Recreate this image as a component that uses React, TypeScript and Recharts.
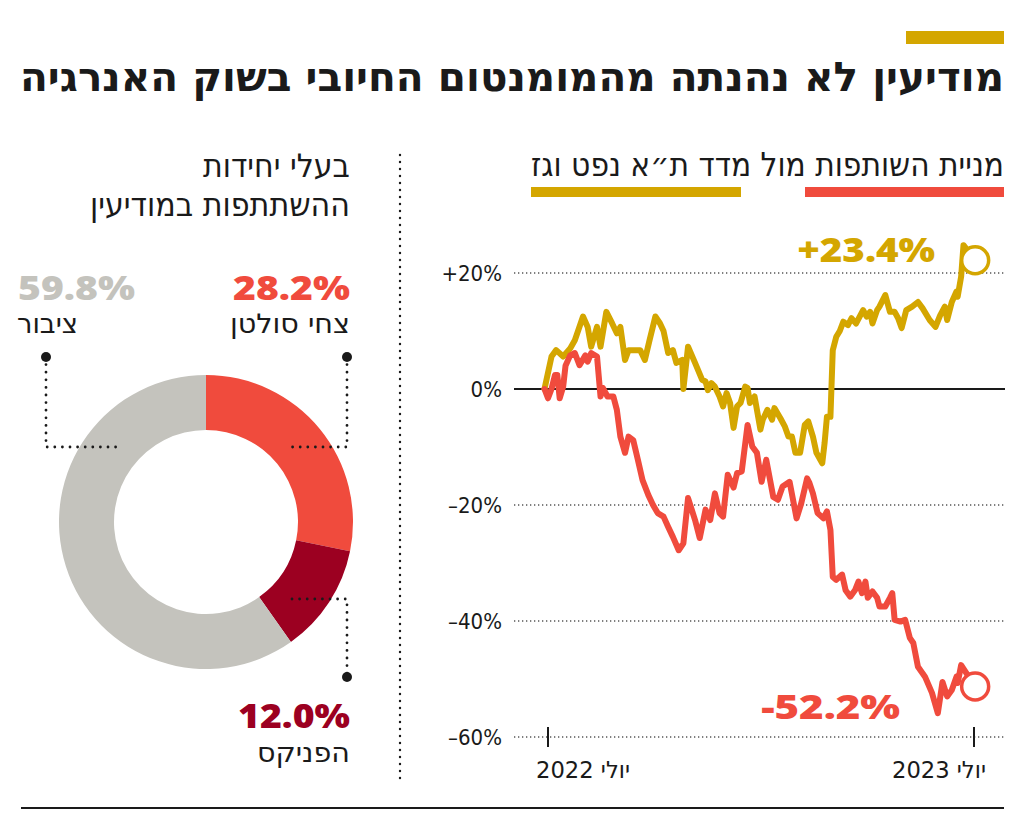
import React from 'react';
import { LineChart, Line, XAxis, YAxis, CartesianGrid, ReferenceLine, PieChart, Pie, Cell } from 'recharts';

const GOLD = '#D4A600';
const RED = '#F04B3D';
const DARK_RED = '#9C0021';
const GRAY = '#C4C3BD';
const INK = '#1a1a1a';

// days since 1 July 2022 — index (ת"א נפט וגז), % change
const indexDays = [-3, 3, 7, 13, 19, 23, 30, 34, 37, 42, 45, 50, 55, 59, 62, 66, 69, 79, 83, 87, 92, 96, 99, 103, 107, 110, 115, 116, 120, 126, 132, 135, 137, 140, 143, 147, 150, 153, 156, 159, 162, 165, 169, 171, 173, 177, 182, 184, 188, 192, 194, 199, 203, 206, 209, 212, 216, 220, 223, 227, 230, 235, 237, 239, 242, 244, 247, 250, 253, 257, 260, 264, 270, 273, 276, 278, 282, 284, 289, 293, 297, 300, 303, 307, 312, 317, 321, 327, 332, 336, 340, 342, 346, 350, 351, 354, 356, 366];
const indexValues = [0, 5.6, 6.7, 5.6, 7, 8.4, 12.5, 10.7, 7.3, 10.7, 7.3, 13.3, 11.3, 9.6, 10.7, 5, 6.7, 6.7, 5, 8.4, 12.5, 11.3, 10, 6.2, 6.7, 4.5, 5, 0, 7.3, 4.5, 1.6, 1.3, -0.2, 1, 0.4, -1.3, -3, -0.7, -2.4, -6.7, -3, -2.4, 0.4, 0.2, -2.4, -1.3, -7, -5.3, -3.6, -5.3, -3.3, -5, -6.5, -8.2, -8.2, -11, -11, -6.2, -5.6, -8.2, -11, -12.8, -9.3, -4.8, -4.8, 6.7, 9, 10, 11.6, 11, 12.2, 11.3, 13.6, 12.5, 13.3, 11.3, 13.6, 14.2, 16.2, 13.3, 13.3, 12.2, 10.5, 13.6, 14.2, 15, 13.9, 11.9, 10.7, 12.7, 14.2, 11.9, 15, 16.8, 15.9, 19.4, 24.8, 22.2];

// days since 1 July 2022 — partnership stock (מודיעין), % change
const stockDays = [-3, 0, 3, 6, 8, 10, 13, 15, 19, 23, 27, 32, 34, 37, 42, 45, 47, 51, 56, 59, 62, 66, 69, 73, 77, 81, 86, 90, 94, 99, 103, 107, 112, 116, 120, 126, 130, 135, 139, 143, 147, 150, 154, 159, 162, 166, 171, 175, 179, 183, 187, 193, 197, 201, 207, 213, 217, 222, 224, 227, 231, 236, 239, 242, 244, 247, 252, 255, 259, 263, 266, 269, 272, 274, 278, 282, 284, 289, 293, 295, 297, 302, 306, 310, 313, 317, 323, 329, 334, 337, 338, 342, 346, 350, 351, 354, 366];
const stockValues = [0, -1.6, 0, 2.4, 2.4, -1.6, 0.4, 4, 5.8, 6.2, 4.1, 5.8, 4.7, 6.2, 5.6, -1.3, 0.2, -1.3, -1.3, -3.6, -8.2, -11, -8.2, -8.8, -12.2, -15.7, -18.3, -20, -21.4, -22, -23.8, -25.5, -27.8, -26.6, -18.8, -22.6, -25.7, -20.8, -22.6, -18, -21.4, -22, -14.8, -17, -14.5, -14.2, -6.2, -9.9, -11, -16, -12.2, -18.6, -19.1, -16.8, -16, -22.3, -19.7, -15.4, -16.2, -18, -21.4, -22.3, -21.1, -24.3, -32.4, -32.9, -32, -34.7, -35.8, -34.7, -33.2, -35.2, -33.2, -36, -34.9, -36, -37.5, -37.5, -36, -35.2, -39.8, -40.1, -39.8, -42.9, -43.8, -47.9, -49.6, -52.4, -55.9, -51.9, -50.5, -53, -51.9, -49.6, -50.7, -47.6, -51.3];

const xTicks = [0, 365];
const xTickLabels = ['יולי 2022', 'יולי 2023'];
const yTicks = [20, 0, -20, -40, -60];
const yTickLabels = ['+20%', '0%', '–20%', '–40%', '–60%'];
const gridValues = [20, -20, -40, -60];
const endLabels = ['+23.4%', '-52.2%'];

const holders = ['צחי סולטן', 'הפניקס', 'ציבור'];
const holderShares = [28.2, 12.0, 59.8];
const holderLabels = ['28.2%', '12.0%', '59.8%'];
const holderColors = [RED, DARK_RED, GRAY];

const TITLE = 'מודיעין לא נהנתה מהמומנטום החיובי בשוק האנרגיה';
const SUBTITLE = 'מניית השותפות מול מדד ת״א נפט וגז';
const LEFT_TITLE = ['בעלי יחידות', 'ההשתתפות במודיעין'];

const indexData = indexDays.map((d, i) => ({ day: d, value: indexValues[i] }));
const stockData = stockDays.map((d, i) => ({ day: d, value: stockValues[i] }));
const pieData = holders.map((h, i) => ({ name: h, value: holderShares[i] }));

const HEB = '"DejaVu Sans Condensed", "DejaVu Sans", sans-serif';
const NUM = '"Open Sans", "Lato", sans-serif';

const makeEndDot = (color: string, last: number, label: string, dx: number, dy: number, w: number) =>
  (props: any) => {
    const { cx, cy, index } = props;
    if (index !== last || cx == null) return <g key={`d${index}`} />;
    return (
      <g key={`d${index}`}>
        <circle cx={cx} cy={cy} r={13.5} fill="#fff" stroke={color} strokeWidth={3.5} />
        <text x={cx + dx} y={cy + dy} textAnchor="end" fill={color} fontFamily={NUM} fontWeight={800}
          fontSize={33} textLength={w} lengthAdjust="spacingAndGlyphs">{label}</text>
      </g>
    );
  };

const XTick = (props: any) => {
  const { x, y, payload } = props;
  const i = xTicks.indexOf(payload.value);
  return (
    <g>
      <line x1={x} x2={x} y1={y - 10} y2={y + 10} stroke={INK} strokeWidth={2} />
      <text x={i === 0 ? x - 12 : x + 12} y={y + 41} textAnchor={i === 0 ? 'start' : 'end'}
        fontFamily={HEB} fontSize={23} fill={INK} textLength={94} lengthAdjust="spacingAndGlyphs">{xTickLabels[i]}</text>
    </g>
  );
};

const dotLine = { stroke: INK, strokeWidth: 2.8, strokeLinecap: 'round' as const, strokeDasharray: '0 7.6', fill: 'none' };

export default function App() {
  return (
    <div style={{ position: 'absolute', left: 0, top: 0, width: 1024, height: 819, background: '#fff', overflow: 'hidden' }}>
      <div style={{ position: 'absolute', left: 0, top: 0 }}>
        <PieChart width={400} height={819} margin={{ top: 0, right: 0, bottom: 0, left: 0 }}>
          <Pie data={pieData} dataKey="value" cx={206} cy={522} innerRadius={92} outerRadius={147}
            startAngle={90} endAngle={-270} stroke="none" isAnimationActive={false}>
            {pieData.map((d, i) => <Cell key={d.name} fill={holderColors[i]} />)}
          </Pie>
        </PieChart>
      </div>
      <div style={{ position: 'absolute', left: 410, top: 0 }}>
        <LineChart width={614} height={819} margin={{ top: 226.6, right: 19, bottom: 0, left: 0 }}>
          <CartesianGrid vertical={false} horizontalValues={gridValues} stroke="#555" strokeWidth={1.4} strokeDasharray="1.3 2.7" />
          <XAxis type="number" dataKey="day" domain={[-29.13, 391.57]} allowDataOverflow ticks={xTicks}
            height={82} axisLine={false} tickLine={false} tickSize={0} tickMargin={0} tick={<XTick />} interval={0} />
          <YAxis type="number" domain={[-60, 28]} allowDataOverflow ticks={yTicks} width={104} axisLine={false}
            tickLine={false} tickSize={0} tickMargin={12} interval={0}
            tickFormatter={(v: number) => yTickLabels[yTicks.indexOf(v)]}
            tick={{ fontFamily: HEB, fontSize: 22, fill: INK }} />
          <ReferenceLine y={0} stroke={INK} strokeWidth={2} />
          <Line data={indexData} dataKey="value" type="linear" stroke={GOLD} strokeWidth={6} strokeLinejoin="round"
            strokeLinecap="round" isAnimationActive={false}
            dot={makeEndDot(GOLD, indexData.length - 1, endLabels[0], -40, 2, 138)} activeDot={false} />
          <Line data={stockData} dataKey="value" type="linear" stroke={RED} strokeWidth={6} strokeLinejoin="round"
            strokeLinecap="round" isAnimationActive={false}
            dot={makeEndDot(RED, stockData.length - 1, endLabels[1], -75, 32, 139)} activeDot={false} />
        </LineChart>
      </div>
      <svg width={1024} height={819} style={{ position: 'absolute', left: 0, top: 0, pointerEvents: 'none' }}>
        <rect x={906} y={31} width={98} height={13} fill={GOLD} />
        <text x={1004} y={91} textAnchor="end" fontFamily={HEB} fontWeight={700} fontSize={41} fill={INK}
          textLength={984} lengthAdjust="spacingAndGlyphs">{TITLE}</text>

        <text x={1004} y={176} textAnchor="end" fontFamily={HEB} fontSize={33} fill={INK}
          textLength={473} lengthAdjust="spacingAndGlyphs">{SUBTITLE}</text>
        <rect x={805} y={187} width={199} height={10} fill={RED} />
        <rect x={531} y={187} width={210} height={10} fill={GOLD} />

        <text x={350} y={177} textAnchor="end" fontFamily={HEB} fontSize={32} fill={INK}
          textLength={147} lengthAdjust="spacingAndGlyphs">{LEFT_TITLE[0]}</text>
        <text x={350} y={216} textAnchor="end" fontFamily={HEB} fontSize={32} fill={INK}
          textLength={260} lengthAdjust="spacingAndGlyphs">{LEFT_TITLE[1]}</text>

        <text x={350} y={300} textAnchor="end" fontFamily={NUM} fontWeight={800} fontSize={34} fill={holderColors[0]}
          textLength={117} lengthAdjust="spacingAndGlyphs">{holderLabels[0]}</text>
        <text x={350} y={333} textAnchor="end" fontFamily={HEB} fontSize={27} fill={INK}
          textLength={120} lengthAdjust="spacingAndGlyphs">{holders[0]}</text>

        <text x={18} y={300} textAnchor="start" fontFamily={NUM} fontWeight={800} fontSize={34} fill={holderColors[2]}
          textLength={117} lengthAdjust="spacingAndGlyphs">{holderLabels[2]}</text>
        <text x={17} y={333} textAnchor="start" fontFamily={HEB} fontSize={27} fill={INK}
          textLength={61} lengthAdjust="spacingAndGlyphs">{holders[2]}</text>

        <text x={350} y={728} textAnchor="end" fontFamily={NUM} fontWeight={800} fontSize={34} fill={holderColors[1]}
          textLength={112} lengthAdjust="spacingAndGlyphs">{holderLabels[1]}</text>
        <text x={350} y={762} textAnchor="end" fontFamily={HEB} fontSize={27} fill={INK}
          textLength={93} lengthAdjust="spacingAndGlyphs">{holders[1]}</text>

        <path d="M347 357 V447 H292" {...dotLine} />
        <circle cx={347} cy={357} r={5} fill={INK} />
        <path d="M46 357 V447 H117" {...dotLine} />
        <circle cx={46} cy={357} r={5} fill={INK} />
        <path d="M292 599 H347 V677" {...dotLine} />
        <circle cx={347} cy={677} r={5} fill={INK} />

        <line x1={400} x2={400} y1={155} y2={780} {...dotLine} strokeWidth={2.4} strokeDasharray="0 7" />
        <line x1={21} x2={1004} y1={808} y2={808} stroke={INK} strokeWidth={2} />
      </svg>
    </div>
  );
}
